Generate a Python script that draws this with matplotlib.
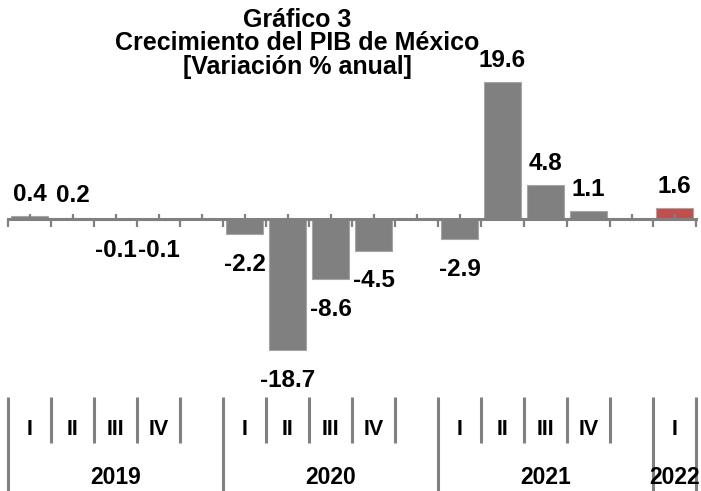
import matplotlib.pyplot as plt

plt.rcParams['font.family'] = ['Liberation Sans', 'DejaVu Sans']
plt.rcParams['font.weight'] = 'bold'

# quarterly slots, None = empty gap between years
values = [0.4, 0.2, -0.1, -0.1, None,
          -2.2, -18.7, -8.6, -4.5, None,
          -2.9, 19.6, 4.8, 1.1, None,
          1.6]
quarters = ['I', 'II', 'III', 'IV', '',
            'I', 'II', 'III', 'IV', '',
            'I', 'II', 'III', 'IV', '',
            'I']
years = ['2019', '2020', '2021', '2022']
year_centers = [2, 7, 12, 15]
year_edges = [-0.5, 4.5, 9.5, 14.5, 15.5]
quarter_edges = [0.5, 1.5, 2.5, 3.5, 5.5, 6.5, 7.5, 8.5, 10.5, 11.5, 12.5, 13.5]

GREY = '#808080'
RED = '#C0504D'
H = 491


def main():
    fig = plt.figure(figsize=(7.01, 4.91), dpi=100)
    ax = fig.add_axes([8 / 701, 0, 688 / 701, 1])

    xs = [i for i, v in enumerate(values) if v is not None]
    vs = [v for v in values if v is not None]
    colors = [RED if i == len(values) - 1 else GREY for i in xs]
    ax.bar(xs, vs, width=0.84, color=colors, edgecolor='#A6A6A6', linewidth=0.8)

    # value labels
    for x, v in zip(xs, vs):
        off = 11 if v >= 0 else -26.5
        ax.annotate(f'{v:.1f}', (x, v), xytext=(0, off), textcoords='offset points',
                    ha='center', va='baseline', fontsize=17.5, fontweight='bold')

    ax.set_xlim(-0.5, 15.5)
    ax.set_ylim(-(H - 219) / 7, 219 / 7)

    for s in ['top', 'left', 'right']:
        ax.spines[s].set_visible(False)
    ax.spines['bottom'].set_position(('data', 0))
    ax.spines['bottom'].set_color(GREY)
    ax.spines['bottom'].set_linewidth(2.2)
    ax.set_yticks([])
    ax.set_xticks([i - 0.5 for i in range(17)])
    ax.set_xticks(range(16), minor=True)
    ax.tick_params(axis='x', which='major', direction='out', length=5.5, width=1.6,
                   color=GREY, labelbottom=False)
    ax.tick_params(axis='x', which='minor', direction='in', length=3.6, width=1.6,
                   color=GREY, labelbottom=False)

    # category table below the chart
    tr = ax.get_xaxis_transform()
    top = 1 - 397 / H
    for x in quarter_edges:
        ax.plot([x, x], [top, 1 - 443 / H], transform=tr, color=GREY, lw=2.2,
                clip_on=False, solid_capstyle='butt')
    for x in year_edges:
        ax.plot([x, x], [top, 0], transform=tr, color=GREY, lw=2.2,
                clip_on=False, solid_capstyle='butt')
    for i, q in enumerate(quarters):
        if q:
            ax.text(i, 1 - 435 / H, q, transform=tr, ha='center', va='baseline',
                    fontsize=15.5, fontweight='bold')
    for x, y in zip(year_centers, years):
        ax.text(x, 1 - 484 / H, y, transform=tr, ha='center', va='baseline',
                fontsize=16.5, fontweight='bold')

    # title
    title = ['Gráfico 3', 'Crecimiento del PIB de México', '[Variación % anual]']
    for line, base in zip(title, [27, 50, 74]):
        fig.text(297 / 701, 1 - base / H, line, ha='center', va='baseline',
                 fontsize=18, fontweight='bold')

    fig.savefig('out.png', dpi=100)


if __name__ == "__main__":
    main()
